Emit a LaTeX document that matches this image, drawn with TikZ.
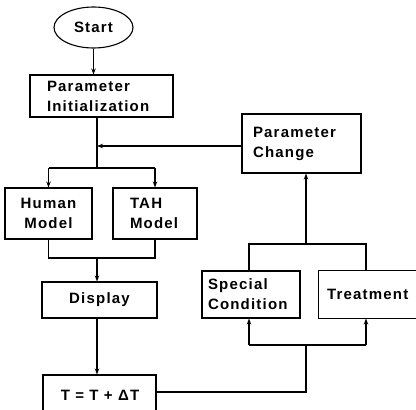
\documentclass[tikz,border=0pt]{standalone}
\usepackage{fontspec}
\setmainfont{Liberation Sans}[LetterSpace=8]
\usetikzlibrary{arrows.meta,shapes.geometric}
\begin{document}
\begin{tikzpicture}[x=1pt,y=-1pt,
  line width=1.1pt,
  every node/.style={font=\fontsize{15}{20}\selectfont\bfseries},
  box/.style={draw,rectangle,inner ysep=0pt},
  flow/.style={-{Stealth[length=6pt,width=4.5pt]}},
  plain/.style={-}]
\useasboundingbox (0,0) rectangle (416,410);
\clip (0,0) rectangle (416,410);

% blocks
\node[draw,ellipse,minimum width=79,minimum height=41,inner sep=0pt] (start) at (93.5,27.5) {Start};
\node[box,minimum height=42,inner xsep=17,text width=109,align=left] (pinit) at (101.5,96) {Parameter\\Initialization};
\node[box,minimum width=87,minimum height=51,align=center] (human) at (48.5,213.5) {Human\\Model};
\node[box,minimum height=51,inner xsep=17,text width=50,align=left] (tah) at (155,213.5) {TAH\\Model};
\node[box,minimum width=115,minimum height=36] (disp) at (99.5,300) {Display};
\node[box,minimum width=113,minimum height=50] (tbox) at (99.5,400) {};
\node at (100,395) (tlabel) {T = T + ΔT};
\node[box,minimum height=59,inner xsep=11,text width=97,align=left] (pchange) at (301.5,143.5) {Parameter\\Change};
\node[box,minimum height=47,inner xsep=6,text width=86,align=left] (scond) at (251,294.5) {Special\\Condition};
% the treatment box runs past the right margin, so only three sides are drawn
\node[rectangle,inner ysep=0pt,minimum height=47,inner xsep=8,text width=124,align=left] (treat) at (389,294.5) {Treatment};
\draw (treat.north -| 420,0) -- (treat.north west) -- (treat.south west) -- (treat.south -| 420,0);

% junction points
\coordinate (j1) at (97,146);
\coordinate (s1) at (97,168);
\coordinate (m1) at (97,258);
\coordinate (tr) at (306,392);
\coordinate (b1) at (306,345);
\coordinate (t1) at (306,244);

% main column
\draw[flow] (start) -- (pinit.north -| start.south);
\draw[plain] (pinit.south -| j1) -- (s1);
\draw[flow] (pchange.west |- j1) -- (j1);
\draw[plain] (human.north |- s1) -- (tah.north |- s1);
\draw[flow] (human.north |- s1) -- (human.north);
\draw[flow] (tah.north |- s1) -- (tah.north);
\draw[plain] (human.south) -- (human.south |- m1) -- (tah.south |- m1) -- (tah.south);
\draw[flow] (m1) -- (disp.north -| m1);
\draw[flow] (disp.south -| m1) -- (tbox.north -| m1);

% feedback loop
\draw[plain] (tbox.east |- tr) -- (tr) -- (b1);
\draw[plain] (249,345) -- (366,345);
\draw[flow] (249,345) -- (scond.south -| 249,0);
\draw[flow] (366,345) -- (treat.south -| 366,0);
\draw[plain] (scond.north -| 249,0) -- (249,244) -- (366,244) -- (treat.north -| 366,0);
\draw[flow] (t1) -- (pchange.south -| t1);
\end{tikzpicture}
\end{document}
